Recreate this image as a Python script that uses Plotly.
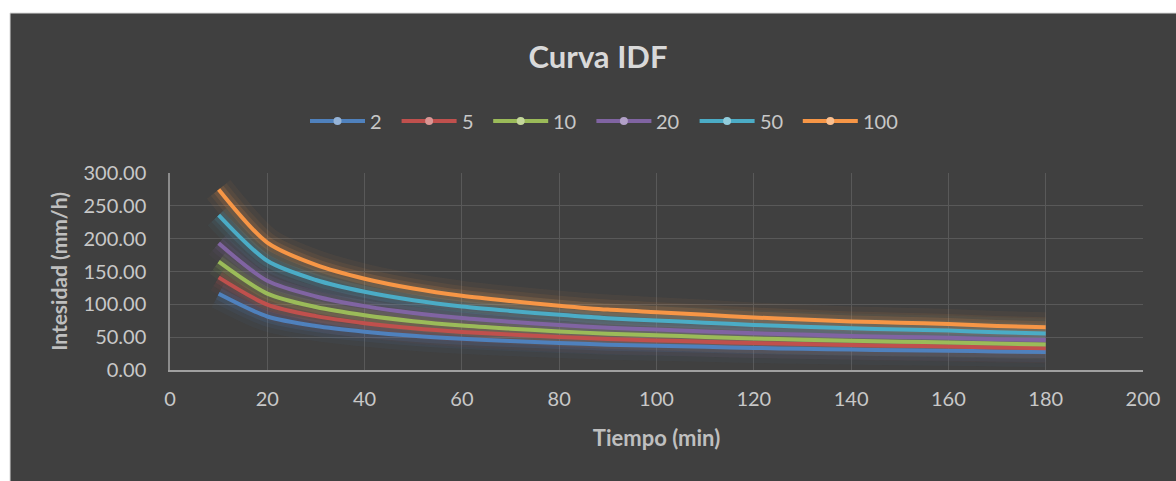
import plotly.graph_objects as go

tiempo = [10, 20, 30, 40, 50, 60, 70, 80, 90, 100, 110, 120, 130, 140, 150, 160, 170, 180]
series_names = ["2", "5", "10", "20", "50", "100"]
i_2 = [116, 81.5, 67, 58.4, 52, 47.5, 44, 41.2, 38.6, 37, 35.3, 33.6, 32.3, 31.1, 30.2, 29.4, 28.1, 27.3]
i_5 = [141, 99.5, 82, 71.3, 63.6, 58, 53.9, 50.3, 47.2, 45.1, 43.1, 41, 39.5, 38, 36.9, 35.9, 34.4, 33.3]
i_10 = [165, 116.4, 96, 83.4, 74.4, 67.8, 63, 58.8, 55.2, 52.8, 50.4, 48, 46.2, 44.4, 43.2, 42, 40.2, 39]
i_20 = [193, 135.8, 112, 97.3, 86.8, 79.1, 73.5, 68.6, 64.4, 61.6, 58.8, 56, 53.9, 51.8, 50.4, 49, 46.9, 45.5]
i_50 = [236, 166.3, 137.1, 119.1, 106.3, 96.8, 90, 84, 78.8, 75.4, 72, 68.6, 66, 63.4, 61.7, 60, 57.4, 55.7]
i_100 = [275, 194, 160, 139, 124, 113, 105, 98, 92, 88, 84, 80, 77, 74, 72, 70, 67, 65]
values = [i_2, i_5, i_10, i_20, i_50, i_100]

line_colors = ["#4F81BD", "#C0504D", "#9BBB59", "#8064A2", "#4BACC6", "#F79646"]
glow_colors = ["rgba(79,129,189,{a})", "rgba(192,80,77,{a})", "rgba(155,187,89,{a})",
               "rgba(128,100,162,{a})", "rgba(75,172,198,{a})", "rgba(247,150,70,{a})"]
marker_colors = ["#95B3D7", "#DA9694", "#C4D79B", "#B1A0C7", "#92CDDC", "#FABF8F"]

FONT = "Lato"
TXT = "#D9D9D9"
TXT2 = "#C8C8C8"
BG = "#404040"

W, H = 1176, 481
ML, MR, MT, MB = 170, 33, 173, 111
PW, PH = W - ML - MR, H - MT - MB


def px_x(p):
    return (p - ML) / PW


def px_y(p):
    return (H - MB - p) / PH


fig = go.Figure()

# glow layers
for name, ys, gc in zip(series_names, values, glow_colors):
    for w, a in [(30, 0.05), (20, 0.08), (12, 0.14)]:
        fig.add_trace(go.Scatter(x=tiempo, y=ys, mode="lines",
                                 line=dict(color=gc.format(a=a), width=w, shape="spline", smoothing=0.8),
                                 showlegend=False, hoverinfo="skip"))

# main lines
for name, ys, lc in zip(series_names, values, line_colors):
    fig.add_trace(go.Scatter(x=tiempo, y=ys, mode="lines", name=name,
                             line=dict(color=lc, width=4, shape="spline", smoothing=0.8),
                             showlegend=False))

shapes = [dict(type="rect", xref="paper", yref="paper",
               x0=px_x(10), x1=px_x(W + 20), y0=px_y(H + 20), y1=px_y(13),
               fillcolor=BG, line=dict(color="#D9D9D9", width=1), layer="below")]
annotations = []

# legend (drawn manually to match the long line samples)
leg_x = 310
leg_y = px_y(121)
for name, lc, mc in zip(series_names, line_colors, marker_colors):
    xa = px_x(leg_x)
    shapes.append(dict(type="line", xref="paper", yref="paper", xsizemode="pixel", ysizemode="pixel",
                       xanchor=xa, yanchor=leg_y, x0=0, x1=55, y0=0, y1=0,
                       line=dict(color=lc, width=4)))
    shapes.append(dict(type="circle", xref="paper", yref="paper", xsizemode="pixel", ysizemode="pixel",
                       xanchor=xa, yanchor=leg_y, x0=23.5, x1=31.5, y0=-4, y1=4,
                       fillcolor=mc, line=dict(width=0)))
    annotations.append(dict(text=name, xref="paper", yref="paper", x=px_x(leg_x + 58), y=leg_y,
                            xanchor="left", yanchor="middle", showarrow=False,
                            font=dict(family=FONT, size=20, color=TXT2)))
    leg_x += 58 + 11.6 * len(name) + 22

fig.update_layout(
    width=W, height=H,
    margin=dict(l=ML, r=MR, t=MT, b=MB),
    paper_bgcolor="white",
    plot_bgcolor="rgba(0,0,0,0)",
    font=dict(family=FONT, color=TXT, size=20),
    title=dict(text="<b>Curva IDF</b>", x=598 / W, xanchor="center", y=1 - 57 / H, yanchor="middle",
               font=dict(family=FONT, size=31, color=TXT)),
    shapes=shapes,
    annotations=annotations,
    showlegend=False,
)

fig.update_xaxes(range=[0, 200], dtick=20, tick0=0, showgrid=True, gridcolor="#595959", gridwidth=1,
                 showline=True, linecolor="#A0A0A0", linewidth=2, zeroline=False,
                 ticks="", ticklabelstandoff=10,
                 tickfont=dict(family=FONT, size=20, color=TXT2),
                 title=dict(text="<b>Tiempo (min)</b>", font=dict(family=FONT, size=22, color="#BFBFBF"), standoff=22))
fig.update_yaxes(range=[0, 300], dtick=50, tick0=0, tickformat=".2f", showgrid=True, gridcolor="#595959", gridwidth=1,
                 showline=True, linecolor="#8C8C8C", linewidth=1.5, zeroline=False,
                 ticks="", ticklabelstandoff=18,
                 tickfont=dict(family=FONT, size=20, color=TXT2),
                 title=dict(text="<b>Intesidad (mm/h)</b>", font=dict(family=FONT, size=21, color="#BFBFBF"), standoff=10))

fig.write_html("out.html")
